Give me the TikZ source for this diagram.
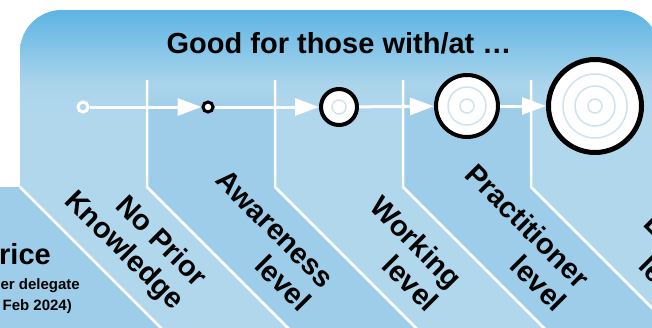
\documentclass[tikz,border=0pt]{standalone}
\usepackage{xcolor}
\usepackage{fontspec}
\setmainfont{Liberation Sans}
\usetikzlibrary{arrows.meta,fadings}
\definecolor{bandlight}{RGB}{176,215,236}
\definecolor{banddark}{RGB}{157,205,233}
\definecolor{bandtop}{RGB}{94,180,228}
\definecolor{ringblue}{RGB}{208,227,235}
\tikzfading[name=fadesouth, top color=transparent!0, bottom color=transparent!100]

\begin{document}
\begin{tikzpicture}[
		x=1pt, y=-1pt,
		dot/.style={circle, draw=black, fill=white, inner sep=0pt},
		ring/.style={draw=ringblue, line width=1.5pt},
		flow/.style={draw=white, line width=3pt, -{Triangle[length=24pt,width=17pt]}},
		divider/.style={draw=white, line width=2.5pt},
		band/.style={font=\bfseries\fontsize{29}{33}\selectfont,
			rotate=-45, anchor=east, align=right, inner sep=2pt},
		pricetext/.style={font=\bfseries\fontsize{15}{18}\selectfont,
			anchor=base east, inner sep=0pt}]
	\useasboundingbox (0,0) rectangle (652,327);
	\clip (0,0) rectangle (652,327);
	\fill[bandlight, rounded corners=42pt] (20,10) rectangle (660,420);
	\fill[banddark] (147,10) -- (275,10) -- (275,187) -- (435,347) -- (307,347) -- (147,187) -- cycle;
	\fill[banddark] (403,10) -- (531,10) -- (531,187) -- (691,347) -- (563,347) -- (403,187) -- cycle;
	\begin{scope}
		\clip[rounded corners=42pt] (20,10) rectangle (660,420);
		\shade[top color=bandtop, bottom color=bandlight!95!bandtop] (20,10) rectangle (660,86);
		\fill[bandlight!95!bandtop, path fading=fadesouth] (20,85) rectangle (660,112);
	\end{scope}
	\fill[banddark] (-10,187) -- (20,187) -- (180,347) -- (-10,347) -- cycle;
	\draw[divider] (20,187) -- (180,347);
	\draw[divider] (147,80) -- (147,187) -- (307,347);
	\draw[divider] (275,80) -- (275,187) -- (435,347);
	\draw[divider] (403,80) -- (403,187) -- (563,347);
	\draw[divider] (531,80) -- (531,187) -- (691,347);

	\node[font=\bfseries\fontsize{29}{34}\selectfont, anchor=base] (title) at (339,53) {Good for those with/at …};

	\node[dot, draw=white, fill=none, line width=3pt, minimum size=10pt] (dotnone) at (83,107) {};
	\node[dot, line width=3pt, minimum size=10pt] (dotaware) at (208,107) {};
	\node[dot, line width=4pt, minimum size=36pt] (dotwork) at (339,107) {};
	\node[dot, line width=4pt, minimum size=62pt] (dotprac) at (467,106) {};
	\node[dot, line width=5pt, minimum size=93pt] (dotexpert) at (595,106) {};
	\draw[ring] (dotwork) circle (7);
	\draw[ring] (dotprac) circle (7);
	\draw[ring] (dotprac) circle (19);
	\draw[ring] (dotexpert) circle (7);
	\draw[ring] (dotexpert) circle (20);
	\draw[ring] (dotexpert) circle (32);
	\draw[flow] (dotnone) -- (dotaware);
	\draw[flow] (dotaware) -- (dotwork);
	\draw[flow] (dotwork) -- (dotprac);
	\draw[flow] (dotprac) -- (dotexpert);

	\node[band] (lblnone) at (191,296) {No Prior\\Knowledge};
	\node[band] (lblaware) at (319,296) {Awareness\\level};
	\node[band] (lblwork) at (447,296) {Working\\level};
	\node[band] (lblprac) at (575,296) {Practitioner\\level};
	\node[band] (lblexpert) at (703,296) {Expert\\level};

	\node[font=\bfseries\fontsize{29}{34}\selectfont, anchor=base east, inner sep=0pt] (price) at (51,264) {Price};
	\node[pricetext] (pricenote) at (80,289) {per delegate};
	\node[pricetext] (pricedate) at (72,310) {(from Feb 2024)};
\end{tikzpicture}
\end{document}
